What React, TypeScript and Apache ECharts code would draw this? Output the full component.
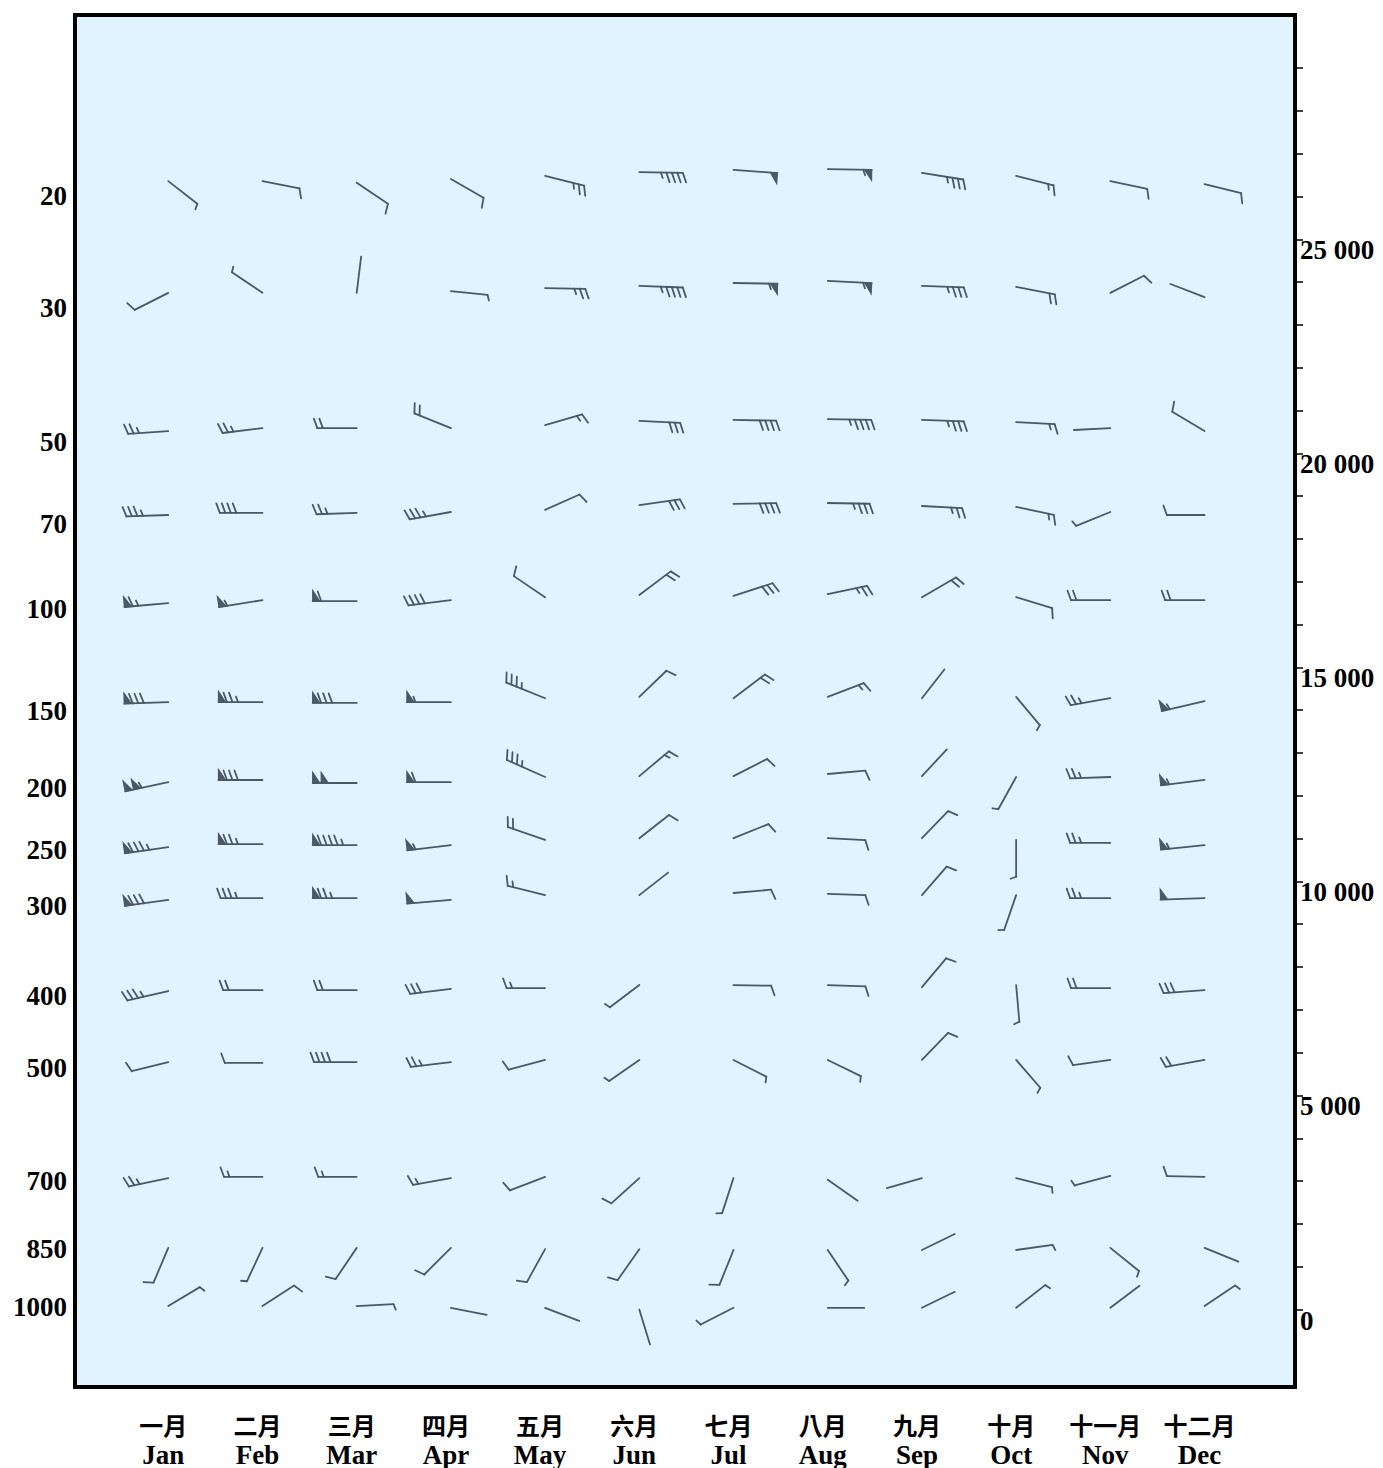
import React, { useEffect, useRef } from "react";
import * as echarts from "echarts";

// ---- Axis labels ----
const monthsCn = ["一月", "二月", "三月", "四月", "五月", "六月", "七月", "八月", "九月", "十月", "十一月", "十二月"];
const monthsEn = ["Jan", "Feb", "Mar", "Apr", "May", "Jun", "Jul", "Aug", "Sep", "Oct", "Nov", "Dec"];
const monthIndex = [0, 1, 2, 3, 4, 5, 6, 7, 8, 9, 10, 11];

const pressureLevels = ["20", "30", "50", "70", "100", "150", "200", "250", "300", "400", "500", "700", "850", "1000"];
// altitude (m) at which each pressure label is printed on the left
const pressureLabelHeights = [26010, 23400, 20270, 18350, 16360, 13980, 12180, 10730, 9430, 7320, 5640, 3000, 1410, 60];

const altitudeTicks = [0, 1000, 2000, 3000, 4000, 5000, 6000, 7000, 8000, 9000, 10000, 11000, 12000, 13000, 14000,
  15000, 16000, 17000, 18000, 19000, 20000, 21000, 22000, 23000, 24000, 25000, 26000, 27000, 28000, 29000];
const altitudeLabels = [0, 5000, 10000, 15000, 20000, 25000];

const altMin = -1810;
const altMax = 30240;

// ---- Data: rows = pressure level (20 ... 1000 hPa), columns = Jan ... Dec ----
// geopotential height (m)
const heightsM = [
  [26360, 26360, 26320, 26410, 26480, 26570, 26620, 26640, 26550, 26480, 26360, 26290],
  [23750, 23750, 23750, 23790, 23860, 23910, 23980, 24030, 23910, 23890, 23750, 23650],
  [20520, 20590, 20590, 20590, 20660, 20760, 20780, 20800, 20780, 20730, 20590, 20520],
  [18560, 18610, 18610, 18630, 18680, 18790, 18820, 18840, 18770, 18750, 18630, 18560],
  [16500, 16570, 16550, 16570, 16640, 16690, 16670, 16710, 16640, 16640, 16570, 16570],
  [14190, 14190, 14170, 14190, 14280, 14310, 14280, 14310, 14280, 14310, 14280, 14210],
  [12320, 12370, 12300, 12320, 12440, 12460, 12460, 12510, 12460, 12440, 12440, 12370],
  [10800, 10870, 10850, 10850, 10970, 11010, 11010, 11010, 11010, 10970, 10900, 10850],
  [9570, 9610, 9610, 9570, 9680, 9680, 9730, 9710, 9680, 9680, 9610, 9610],
  [7440, 7460, 7460, 7490, 7510, 7580, 7580, 7580, 7530, 7580, 7510, 7460],
  [5780, 5760, 5780, 5780, 5830, 5830, 5830, 5830, 5830, 5830, 5830, 5830],
  [3070, 3100, 3100, 3070, 3100, 3070, 3070, 3030, 3070, 3070, 3120, 3100],
  [1440, 1440, 1440, 1440, 1410, 1410, 1390, 1390, 1390, 1390, 1440, 1440],
  [80, 80, 80, 40, 40, 0, 40, 40, 40, 40, 40, 80],
];

// wind direction (degrees, direction the wind blows from)
const windDirDeg = [
  [128, 101, 124, 120, 104, 91, 94, 91, 99, 104, 102, 104],
  [243, 304, 7, 96, 91, 92, 91, 93, 92, 101, 63, 291],
  [266, 263, 270, 292, 74, 93, 91, 91, 92, 93, 267, 301],
  [268, 270, 268, 260, 66, 82, 89, 91, 93, 102, 248, 270],
  [265, 261, 270, 263, 304, 53, 72, 78, 60, 107, 270, 270],
  [268, 270, 270, 270, 292, 46, 53, 69, 38, 140, 260, 257],
  [258, 270, 270, 270, 294, 50, 63, 85, 43, 209, 268, 263],
  [262, 270, 270, 263, 289, 52, 68, 93, 44, 180, 270, 264],
  [262, 270, 270, 265, 284, 52, 85, 92, 41, 199, 270, 268],
  [257, 270, 270, 263, 270, 233, 91, 92, 40, 175, 270, 266],
  [256, 270, 270, 263, 255, 235, 117, 116, 44, 139, 262, 260],
  [258, 270, 270, 260, 249, 228, 198, 125, 254, 104, 255, 271],
  [203, 205, 214, 225, 209, 215, 202, 146, 64, 82, 129, 112],
  [59, 57, 87, 101, 111, 163, 243, 90, 64, 52, 53, 56],
];

// wind speed (knots)
const windSpeedKt = [
  [5, 10, 10, 10, 25, 45, 50, 55, 35, 15, 10, 10],
  [10, 5, 3, 5, 25, 45, 55, 55, 35, 20, 10, 3],
  [25, 25, 20, 20, 15, 30, 40, 45, 35, 15, 3, 10],
  [35, 40, 25, 35, 10, 30, 40, 35, 25, 15, 5, 10],
  [65, 55, 60, 40, 10, 20, 30, 25, 20, 10, 20, 20],
  [80, 75, 80, 55, 35, 10, 20, 15, 3, 5, 25, 55],
  [105, 80, 100, 60, 35, 15, 10, 10, 3, 5, 25, 55],
  [85, 75, 95, 55, 20, 10, 10, 10, 10, 5, 25, 55],
  [80, 35, 75, 50, 15, 3, 10, 10, 10, 5, 25, 50],
  [35, 20, 20, 30, 15, 5, 10, 10, 10, 5, 20, 30],
  [10, 10, 40, 25, 10, 5, 5, 5, 10, 5, 10, 20],
  [25, 15, 15, 15, 10, 10, 5, 3, 3, 5, 5, 10],
  [10, 5, 10, 10, 10, 10, 10, 5, 3, 5, 5, 3],
  [5, 10, 5, 3, 3, 3, 5, 3, 3, 5, 3, 5],
];

const BARB_COLOR = "#4a5964";
const BG_COLOR = "#e1f3fe";
const SERIF = "'Liberation Serif', 'Times New Roman', serif";
const CJK = "'Noto Sans CJK TC', 'Noto Sans CJK SC', sans-serif";

function fmtAlt(v: number): string {
  if (v >= 1000) {
    const th = Math.floor(v / 1000);
    const rest = String(v % 1000).padStart(3, "0");
    return th + " " + rest;
  }
  return String(v);
}

function pressureFor(v: number): string {
  let best = 0;
  let bd = Infinity;
  pressureLabelHeights.forEach((h, i) => {
    const d = Math.abs(h - v);
    if (d < bd) {
      bd = d;
      best = i;
    }
  });
  return pressureLevels[best];
}

function renderBarb(_params: any, api: any) {
  const m = api.value(0);
  const h = api.value(1);
  const dir = api.value(2);
  const spd = api.value(3);
  const c = api.coord([m, h]);
  const sx = c[0];
  const sy = c[1];
  const th = (dir * Math.PI) / 180;
  const ux = Math.sin(th);
  const uy = -Math.cos(th);
  const px = Math.cos(th);
  const py = Math.sin(th);
  const L = 36 + Math.min(8, spd / 6);
  const P = (d: number, o: number) => [sx + ux * d + px * o, sy + uy * d + py * o];
  const lineStyle = { stroke: BARB_COLOR, lineWidth: 1.8, lineCap: "round" };
  const tip = P(L, 0);
  const children: any[] = [
    { type: "line", shape: { x1: sx, y1: sy, x2: tip[0], y2: tip[1] }, style: lineStyle },
  ];
  let rem = Math.floor(spd / 5) * 5;
  const np = Math.floor(rem / 50);
  rem -= np * 50;
  const nf = Math.floor(rem / 10);
  rem -= nf * 10;
  const nh = rem >= 5 ? 1 : 0;
  let d = L;
  for (let i = 0; i < np; i++) {
    children.push({
      type: "polygon",
      shape: { points: [P(d, 0), P(d, 10.5), P(d - 7, 0)] },
      style: { fill: BARB_COLOR, stroke: BARB_COLOR, lineWidth: 1.2 },
    });
    d -= 8.5;
  }
  for (let i = 0; i < nf; i++) {
    const a = P(d, 0);
    const b = P(d + 3.5, 9.5);
    children.push({ type: "line", shape: { x1: a[0], y1: a[1], x2: b[0], y2: b[1] }, style: lineStyle });
    d -= 5.5;
  }
  if (nh) {
    const a = P(d, 0);
    const b = P(d + 2, 5.5);
    children.push({ type: "line", shape: { x1: a[0], y1: a[1], x2: b[0], y2: b[1] }, style: lineStyle });
  }
  return { type: "group", children };
}

export default function App() {
  const ref = useRef<HTMLDivElement>(null);

  useEffect(() => {
    if (!ref.current) return;
    const chart = echarts.init(ref.current, undefined, { renderer: "svg" });

    const data: number[][] = [];
    pressureLevels.forEach((_p, li) => {
      monthIndex.forEach((m) => {
        data.push([m, heightsM[li][m], windDirDeg[li][m], windSpeedKt[li][m]]);
      });
    });

    chart.setOption({
      animation: false,
      backgroundColor: "#ffffff",
      grid: {
        left: 75,
        right: 88,
        top: 15,
        bottom: 81,
        show: true,
        backgroundColor: BG_COLOR,
        borderColor: "#000000",
        borderWidth: 4,
        containLabel: false,
      },
      xAxis: {
        type: "value",
        min: -0.99,
        max: 11.96,
        axisLine: { show: false, onZero: false },
        axisTick: { show: false },
        splitLine: { show: false },
        axisLabel: {
          show: true,
          customValues: monthIndex,
          margin: 22,
          padding: [0, 10, 0, 0],
          formatter: (v: number) => `{cn|${monthsCn[Math.round(v)]}}\n{en|${monthsEn[Math.round(v)]}}`,
          rich: {
            cn: { fontFamily: CJK, fontSize: 24, fontWeight: "bold", lineHeight: 30, color: "#000" },
            en: { fontFamily: SERIF, fontSize: 27, fontWeight: "bold", lineHeight: 31, color: "#000" },
          },
        },
      },
      yAxis: [
        {
          type: "value",
          position: "right",
          min: altMin,
          max: altMax,
          axisLine: { show: false, onZero: false },
          splitLine: { show: false },
          axisTick: {
            show: true,
            inside: false,
            length: 8,
            customValues: altitudeTicks,
            lineStyle: { color: "#000", width: 1.5 },
          },
          axisLabel: {
            show: true,
            customValues: altitudeLabels,
            formatter: (v: number) => fmtAlt(v),
            fontFamily: SERIF,
            fontSize: 27,
            fontWeight: "bold",
            color: "#000",
            margin: 5,
            verticalAlign: "top",
            lineHeight: 22,
          },
        },
        {
          type: "value",
          position: "left",
          min: altMin,
          max: altMax,
          axisLine: { show: false, onZero: false },
          splitLine: { show: false },
          axisTick: { show: false },
          axisLabel: {
            show: true,
            customValues: pressureLabelHeights,
            formatter: (v: number) => pressureFor(v),
            fontFamily: SERIF,
            fontSize: 27,
            fontWeight: "bold",
            color: "#000",
            margin: 8,
          },
        },
      ],
      series: [
        {
          type: "custom",
          xAxisIndex: 0,
          yAxisIndex: 0,
          dimensions: ["month", "height", "dir", "speed"],
          encode: { x: 0, y: 1 },
          renderItem: renderBarb,
          data,
          clip: false,
          silent: true,
        },
      ],
    });

    return () => chart.dispose();
  }, []);

  return (
    <div
      ref={ref}
      style={{ position: "absolute", left: 0, top: 0, width: 1383, height: 1468 }}
    />
  );
}
